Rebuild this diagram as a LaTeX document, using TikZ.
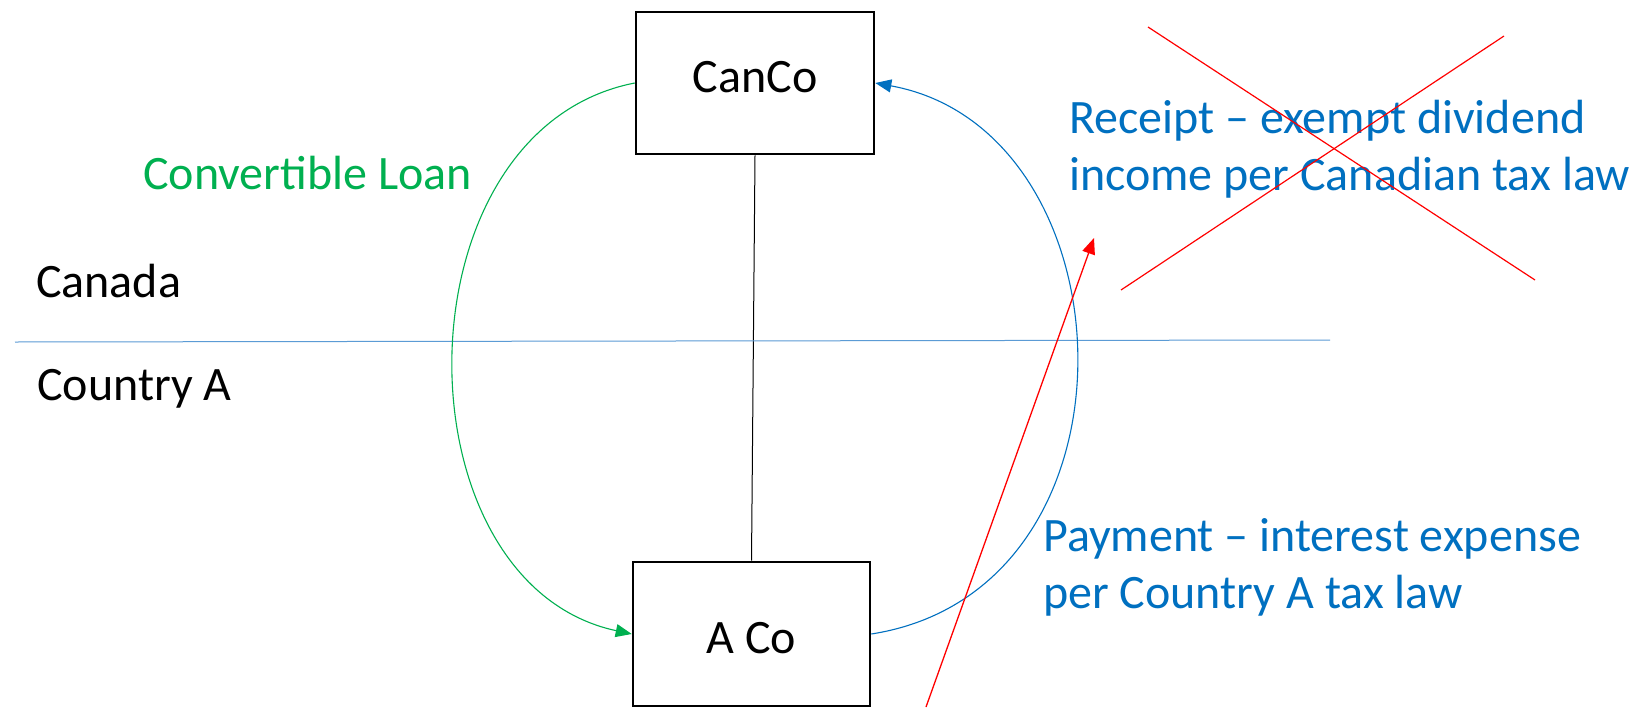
\documentclass[tikz,border=0pt]{standalone}
\usepackage{fontspec}
\setmainfont{Carlito}
\usetikzlibrary{arrows.meta}
\definecolor{cgreen}{HTML}{00B050}
\definecolor{cblue}{HTML}{0070C0}
\definecolor{cline}{HTML}{5B9BD5}
\definecolor{cred}{HTML}{FF0000}
\tikzset{
  firm/.style={draw=black, line width=2.6pt, minimum width=#1, inner sep=0pt, font=\fontsize{48}{57}\selectfont},
  lbl/.style={anchor=base west, inner sep=0pt, font=\fontsize{48}{57}\selectfont, align=left},
  conn/.style={line width=1.1pt},
  tip/.style={-{Triangle[length=16pt,width=13pt]}},
}
\begin{document}
\begin{tikzpicture}[x=1pt,y=-1pt]
\useasboundingbox (0,0) rectangle (1649,707);
\fill[white] (0,0) rectangle (1649,707);

% boxes
\node[firm=238pt, minimum height=142pt, text height=30pt, text depth=12pt] (canco) at (755,83) {CanCo};
\node[firm=237pt, minimum height=144pt, text height=38pt, text depth=0pt] (aco) at (751.5,634) {A Co};

% vertical link
\draw[line width=1pt] (canco.south) -- (aco.north);

% border line
\coordinate (bl) at (15,342);
\coordinate (br) at (1330,340);
\draw[cline, line width=1pt] (bl) -- (br);

% green convertible loan curve
\draw[conn, cgreen, tip] (canco.west) .. controls (394,130) and (394,583) .. (aco.west);

% blue payment curve
\draw[conn, cblue, tip] (aco.east) .. controls (1153,590) and (1134,130) .. (canco.east);

% red arrow
\coordinate (ra) at (926,707);
\coordinate (rb) at (1094,238);
\draw[cred, line width=1.3pt, tip] (ra) -- (rb);

% labels
\node[lbl, text=cgreen] (loan) at (143,189) {Convertible Loan};
\node[lbl] (canada) at (36,297) {Canada};
\node[lbl] (countrya) at (37,400) {Country A};
\node[lbl, text=cblue] (receipt) at (1069,190) {Receipt -- exempt dividend\\income per Canadian tax law};
\node[lbl, text=cblue] (payment) at (1043,608) {Payment -- interest expense\\per Country A tax law};

% red cross
\coordinate (x1a) at (1148,27);
\coordinate (x1b) at (1535,280);
\coordinate (x2a) at (1504,36);
\coordinate (x2b) at (1121,290);
\draw[cred, line width=1.2pt] (x1a) -- (x1b);
\draw[cred, line width=1.2pt] (x2a) -- (x2b);
\end{tikzpicture}
\end{document}
